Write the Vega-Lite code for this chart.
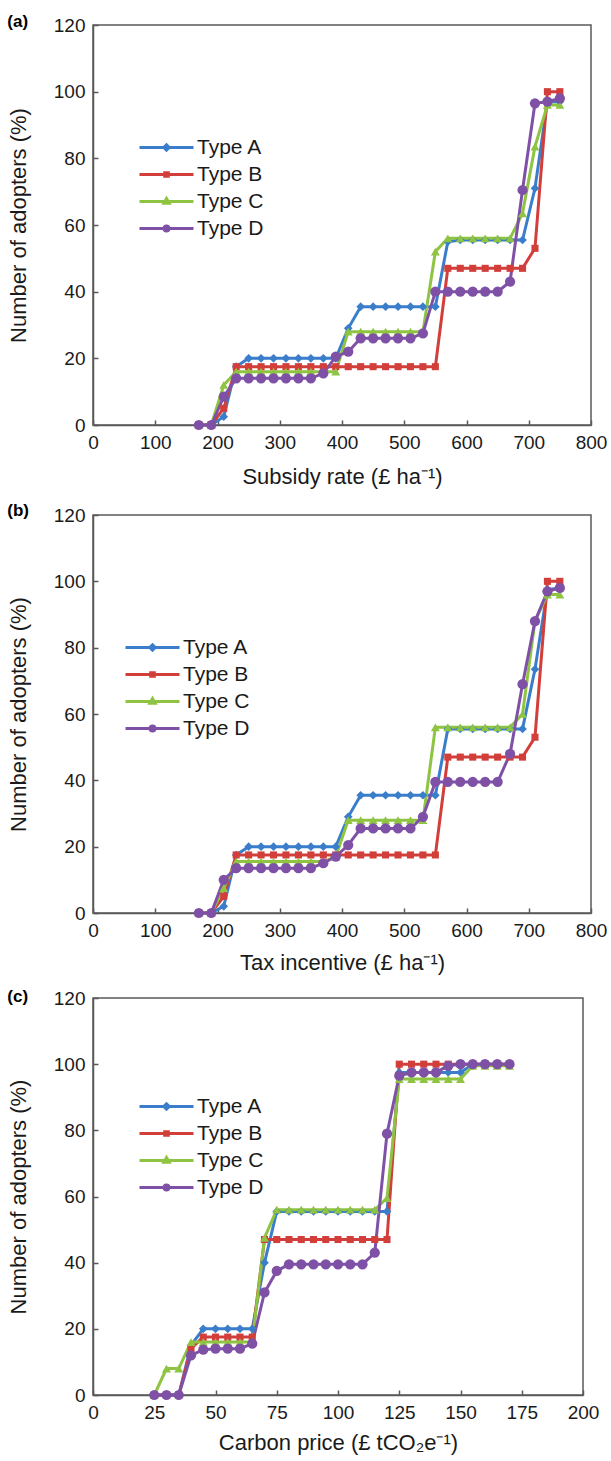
{
  "$schema": "https://vega.github.io/schema/vega-lite/v6.json",
  "background": "white",
  "padding": {"left": 6, "top": 12, "right": 4, "bottom": 2},
  "config": {
    "font": "Liberation Sans",
    "view": {"stroke": "#595959", "strokeWidth": 1.5},
    "axis": {"domainColor": "#595959", "domainWidth": 1.5, "tickColor": "#595959", "tickWidth": 1.5, "tickSize": -5, "labelPadding": 13, "labelFontSize": 19, "labelColor": "#1a1a1a", "titleFontSize": 22, "titleFontWeight": "normal", "titleColor": "#1a1a1a", "grid": false, "labelFlush": false},
    "axisY": {"titlePadding": 23},
    "legend": {"labelFontSize": 21, "labelColor": "#1a1a1a", "padding": 0, "title": null, "symbolSize": 36, "symbolStrokeWidth": 3, "labelOffset": 20, "rowPadding": 5},
    "title": {"anchor": "start", "frame": "bounds", "fontSize": 17, "fontWeight": "bold", "color": "#000"}
  },
  "datasets": {
    "a": [
      {"x": 170, "Type A": 0, "Type B": 0, "Type C": 0, "Type D": 0},
      {"x": 190, "Type A": 0, "Type B": 0, "Type C": 0, "Type D": 0},
      {"x": 210, "Type A": 2.5, "Type B": 5, "Type C": 12, "Type D": 8.5},
      {"x": 230, "Type A": 17.5, "Type B": 17.5, "Type C": 16, "Type D": 14},
      {"x": 250, "Type A": 20, "Type B": 17.5, "Type C": 16, "Type D": 14},
      {"x": 270, "Type A": 20, "Type B": 17.5, "Type C": 16, "Type D": 14},
      {"x": 290, "Type A": 20, "Type B": 17.5, "Type C": 16, "Type D": 14},
      {"x": 310, "Type A": 20, "Type B": 17.5, "Type C": 16, "Type D": 14},
      {"x": 330, "Type A": 20, "Type B": 17.5, "Type C": 16, "Type D": 14},
      {"x": 350, "Type A": 20, "Type B": 17.5, "Type C": 16, "Type D": 14},
      {"x": 370, "Type A": 20, "Type B": 17.5, "Type C": 16, "Type D": 15.5},
      {"x": 390, "Type A": 20, "Type B": 17.5, "Type C": 16, "Type D": 20.5},
      {"x": 410, "Type A": 29, "Type B": 17.5, "Type C": 28, "Type D": 22},
      {"x": 430, "Type A": 35.5, "Type B": 17.5, "Type C": 28, "Type D": 26},
      {"x": 450, "Type A": 35.5, "Type B": 17.5, "Type C": 28, "Type D": 26},
      {"x": 470, "Type A": 35.5, "Type B": 17.5, "Type C": 28, "Type D": 26},
      {"x": 490, "Type A": 35.5, "Type B": 17.5, "Type C": 28, "Type D": 26},
      {"x": 510, "Type A": 35.5, "Type B": 17.5, "Type C": 28, "Type D": 26},
      {"x": 530, "Type A": 35.5, "Type B": 17.5, "Type C": 28, "Type D": 27.5},
      {"x": 550, "Type A": 35.5, "Type B": 17.5, "Type C": 52, "Type D": 40},
      {"x": 570, "Type A": 55, "Type B": 47, "Type C": 56, "Type D": 40},
      {"x": 590, "Type A": 55.5, "Type B": 47, "Type C": 56, "Type D": 40},
      {"x": 610, "Type A": 55.5, "Type B": 47, "Type C": 56, "Type D": 40},
      {"x": 630, "Type A": 55.5, "Type B": 47, "Type C": 56, "Type D": 40},
      {"x": 650, "Type A": 55.5, "Type B": 47, "Type C": 56, "Type D": 40},
      {"x": 670, "Type A": 55.5, "Type B": 47, "Type C": 56, "Type D": 43},
      {"x": 690, "Type A": 55.5, "Type B": 47, "Type C": 63.5, "Type D": 70.5},
      {"x": 710, "Type A": 71, "Type B": 53, "Type C": 83.5, "Type D": 96.5},
      {"x": 730, "Type A": 97, "Type B": 100, "Type C": 96, "Type D": 97},
      {"x": 750, "Type A": 97, "Type B": 100, "Type C": 96, "Type D": 98}
    ],
    "b": [
      {"x": 170, "Type A": 0, "Type B": 0, "Type C": 0, "Type D": 0},
      {"x": 190, "Type A": 0, "Type B": 0, "Type C": 0, "Type D": 0},
      {"x": 210, "Type A": 2, "Type B": 5, "Type C": 7.5, "Type D": 10},
      {"x": 230, "Type A": 17.5, "Type B": 17.5, "Type C": 15.5, "Type D": 13.5},
      {"x": 250, "Type A": 20, "Type B": 17.5, "Type C": 15.5, "Type D": 13.5},
      {"x": 270, "Type A": 20, "Type B": 17.5, "Type C": 15.5, "Type D": 13.5},
      {"x": 290, "Type A": 20, "Type B": 17.5, "Type C": 15.5, "Type D": 13.5},
      {"x": 310, "Type A": 20, "Type B": 17.5, "Type C": 15.5, "Type D": 13.5},
      {"x": 330, "Type A": 20, "Type B": 17.5, "Type C": 15.5, "Type D": 13.5},
      {"x": 350, "Type A": 20, "Type B": 17.5, "Type C": 15.5, "Type D": 13.5},
      {"x": 370, "Type A": 20, "Type B": 17.5, "Type C": 15.5, "Type D": 15},
      {"x": 390, "Type A": 20, "Type B": 17.5, "Type C": 17, "Type D": 17},
      {"x": 410, "Type A": 29, "Type B": 17.5, "Type C": 28, "Type D": 20.5},
      {"x": 430, "Type A": 35.5, "Type B": 17.5, "Type C": 28, "Type D": 25.5},
      {"x": 450, "Type A": 35.5, "Type B": 17.5, "Type C": 28, "Type D": 25.5},
      {"x": 470, "Type A": 35.5, "Type B": 17.5, "Type C": 28, "Type D": 25.5},
      {"x": 490, "Type A": 35.5, "Type B": 17.5, "Type C": 28, "Type D": 25.5},
      {"x": 510, "Type A": 35.5, "Type B": 17.5, "Type C": 28, "Type D": 25.5},
      {"x": 530, "Type A": 35.5, "Type B": 17.5, "Type C": 28, "Type D": 29},
      {"x": 550, "Type A": 35.5, "Type B": 17.5, "Type C": 56, "Type D": 39.5},
      {"x": 570, "Type A": 55.5, "Type B": 47, "Type C": 56, "Type D": 39.5},
      {"x": 590, "Type A": 55.5, "Type B": 47, "Type C": 56, "Type D": 39.5},
      {"x": 610, "Type A": 55.5, "Type B": 47, "Type C": 56, "Type D": 39.5},
      {"x": 630, "Type A": 55.5, "Type B": 47, "Type C": 56, "Type D": 39.5},
      {"x": 650, "Type A": 55.5, "Type B": 47, "Type C": 56, "Type D": 39.5},
      {"x": 670, "Type A": 55.5, "Type B": 47, "Type C": 56, "Type D": 48},
      {"x": 690, "Type A": 55.5, "Type B": 47, "Type C": 60, "Type D": 69},
      {"x": 710, "Type A": 73.5, "Type B": 53, "Type C": 88, "Type D": 88},
      {"x": 730, "Type A": 97.5, "Type B": 100, "Type C": 96, "Type D": 97},
      {"x": 750, "Type A": 98, "Type B": 100, "Type C": 96, "Type D": 98}
    ],
    "c": [
      {"x": 25, "Type A": 0, "Type B": 0, "Type C": 0, "Type D": 0},
      {"x": 30, "Type A": 0, "Type B": 0, "Type C": 8, "Type D": 0},
      {"x": 35, "Type A": 0, "Type B": 0, "Type C": 8, "Type D": 0},
      {"x": 40, "Type A": 15, "Type B": 14, "Type C": 16, "Type D": 12},
      {"x": 45, "Type A": 20, "Type B": 17.5, "Type C": 16, "Type D": 13.7},
      {"x": 50, "Type A": 20, "Type B": 17.5, "Type C": 16, "Type D": 14},
      {"x": 55, "Type A": 20, "Type B": 17.5, "Type C": 16, "Type D": 14},
      {"x": 60, "Type A": 20, "Type B": 17.5, "Type C": 16, "Type D": 14},
      {"x": 65, "Type A": 20, "Type B": 17.5, "Type C": 16, "Type D": 15.5},
      {"x": 70, "Type A": 40, "Type B": 47, "Type C": 47.5, "Type D": 31},
      {"x": 75, "Type A": 55.5, "Type B": 47, "Type C": 56, "Type D": 37.5},
      {"x": 80, "Type A": 55.5, "Type B": 47, "Type C": 56, "Type D": 39.5},
      {"x": 85, "Type A": 55.5, "Type B": 47, "Type C": 56, "Type D": 39.5},
      {"x": 90, "Type A": 55.5, "Type B": 47, "Type C": 56, "Type D": 39.5},
      {"x": 95, "Type A": 55.5, "Type B": 47, "Type C": 56, "Type D": 39.5},
      {"x": 100, "Type A": 55.5, "Type B": 47, "Type C": 56, "Type D": 39.5},
      {"x": 105, "Type A": 55.5, "Type B": 47, "Type C": 56, "Type D": 39.5},
      {"x": 110, "Type A": 55.5, "Type B": 47, "Type C": 56, "Type D": 39.5},
      {"x": 115, "Type A": 55.5, "Type B": 47, "Type C": 56, "Type D": 43},
      {"x": 120, "Type A": 55.5, "Type B": 47, "Type C": 59.5, "Type D": 79},
      {"x": 125, "Type A": 97.5, "Type B": 100, "Type C": 95.5, "Type D": 96.5},
      {"x": 130, "Type A": 97.5, "Type B": 100, "Type C": 95.5, "Type D": 97.5},
      {"x": 135, "Type A": 97.5, "Type B": 100, "Type C": 95.5, "Type D": 97.5},
      {"x": 140, "Type A": 97.5, "Type B": 100, "Type C": 95.5, "Type D": 97.5},
      {"x": 145, "Type A": 97.5, "Type B": 100, "Type C": 95.5, "Type D": 99.5},
      {"x": 150, "Type A": 97.5, "Type B": 100, "Type C": 95.5, "Type D": 100},
      {"x": 155, "Type A": 100, "Type B": 100, "Type C": 99.5, "Type D": 100},
      {"x": 160, "Type A": 100, "Type B": 100, "Type C": 99.5, "Type D": 100},
      {"x": 165, "Type A": 100, "Type B": 100, "Type C": 99.5, "Type D": 100},
      {"x": 170, "Type A": 100, "Type B": 100, "Type C": 99.5, "Type D": 100}
    ]
  },
  "spacing": 13,
  "resolve": {"scale": {"color": "independent"}, "legend": {"color": "independent"}},
  "vconcat": [
    {
      "width": 498, "height": 400,
      "title": {"text": "(a)", "offset": -15},
      "data": {"name": "a"},
      "transform": [{"fold": ["Type A", "Type B", "Type C", "Type D"], "as": ["type", "pct"]}],
      "encoding": {
        "x": {"field": "x", "type": "quantitative", "scale": {"domain": [0, 800], "nice": false}, "axis": {"title": "Subsidy rate (£ ha⁻¹)", "values": [0, 100, 200, 300, 400, 500, 600, 700, 800], "titlePadding": 14}},
        "y": {"field": "pct", "type": "quantitative", "scale": {"domain": [0, 120], "nice": false}, "axis": {"title": "Number of adopters (%)", "values": [0, 20, 40, 60, 80, 100, 120]}}
      },
      "layer": [
        {"mark": {"type": "line", "strokeWidth": 3},
         "encoding": {"color": {"field": "type", "type": "nominal", "scale": {"domain": ["Type A", "Type B", "Type C", "Type D"], "range": ["#3a7ecb", "#d23f3b", "#8fc443", "#7f51a6"]},
           "legend": {"orient": "none", "legendX": 63, "legendY": 112,
             "encode": {"symbols": {"update": {
               "shape": {"signal": "datum.value === 'Type A' ? 'M-9,0H9M0,-0.9L0.9,0L0,0.9L-0.9,0Z' : datum.value === 'Type B' ? 'M-9,0H9M-0.6,-0.6H0.6V0.6H-0.6Z' : datum.value === 'Type C' ? 'M-9,0H9M0,-1L0.9,0.6H-0.9Z' : 'M-9,0H9M-0.8,0A0.8,0.8,0,1,0,0.8,0A0.8,0.8,0,1,0,-0.8,0Z'"},
               "fill": {"signal": "datum.value === 'Type A' ? '#3a7ecb' : datum.value === 'Type B' ? '#d23f3b' : datum.value === 'Type C' ? '#8fc443' : '#7f51a6'"},
               "stroke": {"signal": "datum.value === 'Type A' ? '#3a7ecb' : datum.value === 'Type B' ? '#d23f3b' : datum.value === 'Type C' ? '#8fc443' : '#7f51a6'"},
               "strokeWidth": {"value": 3}, "opacity": {"value": 1}
             }}}}}}},
        {"transform": [{"filter": "datum.type === 'Type A'"}], "mark": {"type": "point", "shape": "diamond", "filled": true, "opacity": 1, "color": "#3a7ecb", "size": 75}},
        {"transform": [{"filter": "datum.type === 'Type B'"}], "mark": {"type": "point", "shape": "square", "filled": true, "opacity": 1, "color": "#d23f3b", "size": 50}},
        {"transform": [{"filter": "datum.type === 'Type C'"}], "mark": {"type": "point", "shape": "triangle-up", "filled": true, "opacity": 1, "color": "#8fc443", "size": 80}},
        {"transform": [{"filter": "datum.type === 'Type D'"}], "mark": {"type": "point", "shape": "circle", "filled": true, "opacity": 1, "color": "#7f51a6", "size": 105}}
      ]
    },
    {
      "width": 498, "height": 398,
      "title": {"text": "(b)", "offset": -14},
      "data": {"name": "b"},
      "transform": [{"fold": ["Type A", "Type B", "Type C", "Type D"], "as": ["type", "pct"]}],
      "encoding": {
        "x": {"field": "x", "type": "quantitative", "scale": {"domain": [0, 800], "nice": false}, "axis": {"title": "Tax incentive (£ ha⁻¹)", "values": [0, 100, 200, 300, 400, 500, 600, 700, 800], "titlePadding": 12}},
        "y": {"field": "pct", "type": "quantitative", "scale": {"domain": [0, 120], "nice": false}, "axis": {"title": "Number of adopters (%)", "values": [0, 20, 40, 60, 80, 100, 120]}}
      },
      "layer": [
        {"mark": {"type": "line", "strokeWidth": 3},
         "encoding": {"color": {"field": "type", "type": "nominal", "scale": {"domain": ["Type A", "Type B", "Type C", "Type D"], "range": ["#3a7ecb", "#d23f3b", "#8fc443", "#7f51a6"]},
           "legend": {"orient": "none", "legendX": 49, "legendY": 122,
             "encode": {"symbols": {"update": {
               "shape": {"signal": "datum.value === 'Type A' ? 'M-9,0H9M0,-0.9L0.9,0L0,0.9L-0.9,0Z' : datum.value === 'Type B' ? 'M-9,0H9M-0.6,-0.6H0.6V0.6H-0.6Z' : datum.value === 'Type C' ? 'M-9,0H9M0,-1L0.9,0.6H-0.9Z' : 'M-9,0H9M-0.8,0A0.8,0.8,0,1,0,0.8,0A0.8,0.8,0,1,0,-0.8,0Z'"},
               "fill": {"signal": "datum.value === 'Type A' ? '#3a7ecb' : datum.value === 'Type B' ? '#d23f3b' : datum.value === 'Type C' ? '#8fc443' : '#7f51a6'"},
               "stroke": {"signal": "datum.value === 'Type A' ? '#3a7ecb' : datum.value === 'Type B' ? '#d23f3b' : datum.value === 'Type C' ? '#8fc443' : '#7f51a6'"},
               "strokeWidth": {"value": 3}, "opacity": {"value": 1}
             }}}}}}},
        {"transform": [{"filter": "datum.type === 'Type A'"}], "mark": {"type": "point", "shape": "diamond", "filled": true, "opacity": 1, "color": "#3a7ecb", "size": 75}},
        {"transform": [{"filter": "datum.type === 'Type B'"}], "mark": {"type": "point", "shape": "square", "filled": true, "opacity": 1, "color": "#d23f3b", "size": 50}},
        {"transform": [{"filter": "datum.type === 'Type C'"}], "mark": {"type": "point", "shape": "triangle-up", "filled": true, "opacity": 1, "color": "#8fc443", "size": 80}},
        {"transform": [{"filter": "datum.type === 'Type D'"}], "mark": {"type": "point", "shape": "circle", "filled": true, "opacity": 1, "color": "#7f51a6", "size": 105}}
      ]
    },
    {
      "width": 490, "height": 397,
      "title": {"text": "(c)", "offset": -17},
      "data": {"name": "c"},
      "transform": [{"fold": ["Type A", "Type B", "Type C", "Type D"], "as": ["type", "pct"]}],
      "encoding": {
        "x": {"field": "x", "type": "quantitative", "scale": {"domain": [0, 200], "nice": false}, "axis": {"title": "Carbon price (£ tCO₂e⁻¹)", "values": [0, 25, 50, 75, 100, 125, 150, 175, 200], "titlePadding": 10}},
        "y": {"field": "pct", "type": "quantitative", "scale": {"domain": [0, 120], "nice": false}, "axis": {"title": "Number of adopters (%)", "values": [0, 20, 40, 60, 80, 100, 120]}}
      },
      "layer": [
        {"mark": {"type": "line", "strokeWidth": 3},
         "encoding": {"color": {"field": "type", "type": "nominal", "scale": {"domain": ["Type A", "Type B", "Type C", "Type D"], "range": ["#3a7ecb", "#d23f3b", "#8fc443", "#7f51a6"]},
           "legend": {"orient": "none", "legendX": 63, "legendY": 98,
             "encode": {"symbols": {"update": {
               "shape": {"signal": "datum.value === 'Type A' ? 'M-9,0H9M0,-0.9L0.9,0L0,0.9L-0.9,0Z' : datum.value === 'Type B' ? 'M-9,0H9M-0.6,-0.6H0.6V0.6H-0.6Z' : datum.value === 'Type C' ? 'M-9,0H9M0,-1L0.9,0.6H-0.9Z' : 'M-9,0H9M-0.8,0A0.8,0.8,0,1,0,0.8,0A0.8,0.8,0,1,0,-0.8,0Z'"},
               "fill": {"signal": "datum.value === 'Type A' ? '#3a7ecb' : datum.value === 'Type B' ? '#d23f3b' : datum.value === 'Type C' ? '#8fc443' : '#7f51a6'"},
               "stroke": {"signal": "datum.value === 'Type A' ? '#3a7ecb' : datum.value === 'Type B' ? '#d23f3b' : datum.value === 'Type C' ? '#8fc443' : '#7f51a6'"},
               "strokeWidth": {"value": 3}, "opacity": {"value": 1}
             }}}}}}},
        {"transform": [{"filter": "datum.type === 'Type A'"}], "mark": {"type": "point", "shape": "diamond", "filled": true, "opacity": 1, "color": "#3a7ecb", "size": 75}},
        {"transform": [{"filter": "datum.type === 'Type B'"}], "mark": {"type": "point", "shape": "square", "filled": true, "opacity": 1, "color": "#d23f3b", "size": 50}},
        {"transform": [{"filter": "datum.type === 'Type C'"}], "mark": {"type": "point", "shape": "triangle-up", "filled": true, "opacity": 1, "color": "#8fc443", "size": 80}},
        {"transform": [{"filter": "datum.type === 'Type D'"}], "mark": {"type": "point", "shape": "circle", "filled": true, "opacity": 1, "color": "#7f51a6", "size": 105}}
      ]
    }
  ]
}
